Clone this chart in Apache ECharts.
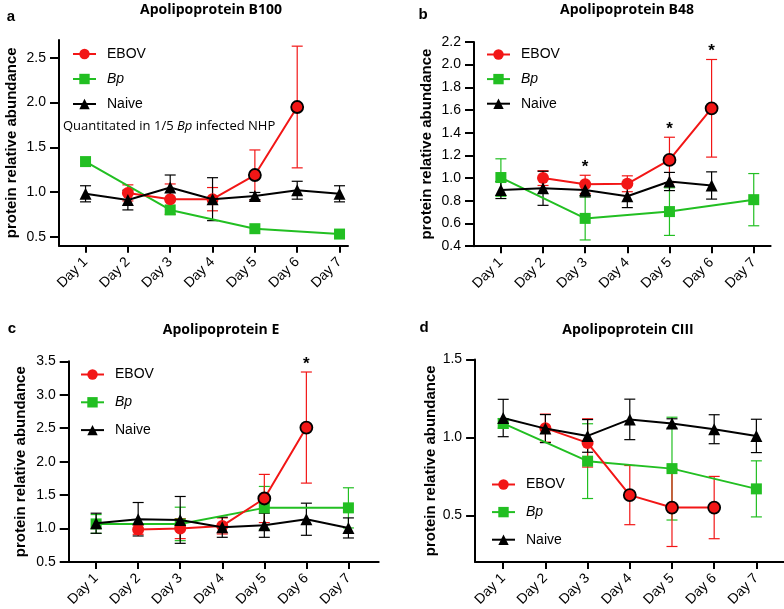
<!DOCTYPE html>
<html><head><meta charset="utf-8">
<script src="https://cdn.jsdelivr.net/npm/echarts@6/dist/echarts.min.js"></script>
<style>html,body{margin:0;padding:0;background:#fff}#c{width:784px;height:609px}</style>
</head><body><div id="c"></div>
<script>
// ---- data ----
const days = [1, 2, 3, 4, 5, 6, 7];
const dayLabels = ['Day 1', 'Day 2', 'Day 3', 'Day 4', 'Day 5', 'Day 6', 'Day 7'];
const seriesNames = ['EBOV', 'Bp', 'Naive'];

const titles = ['Apolipoprotein B100', 'Apolipoprotein B48', 'Apolipoprotein E', 'Apolipoprotein CIII'];
const letters = ['a', 'b', 'c', 'd'];

// Panel a
const ebovA = [null, 0.99, 0.92, 0.92, 1.19, 1.95, null];
const ebovAErr = [null, 0.09, 0.17, 0.13, 0.28, 0.68, null];
const bpA = [1.34, null, 0.80, null, 0.59, null, 0.53];
const bpAErr = [null, null, null, null, null, null, null];
const naiveA = [0.98, 0.91, 1.05, 0.92, 0.955, 1.02, 0.98];
const naiveAErr = [0.09, 0.11, 0.14, 0.24, 0.04, 0.10, 0.09];
const outlinedA = [5, 6];
const sigA = [];
const yTicksA = [0.5, 1.0, 1.5, 2.0, 2.5];

// Panel b
const ebovB = [null, 1.00, 0.945, 0.95, 1.16, 1.615, null];
const ebovBErr = [null, 0.065, 0.08, 0.07, 0.20, 0.43, null];
const bpB = [1.005, null, 0.645, null, 0.705, null, 0.81];
const bpBErr = [0.165, null, 0.19, null, 0.21, null, 0.23];
const naiveB = [0.895, 0.91, 0.895, 0.84, 0.97, 0.935, null];
const naiveBErr = [0.075, 0.15, 0.06, 0.10, 0.08, 0.12, null];
const outlinedB = [5, 6];
const sigB = [3, 5, 6];
const yTicksB = [0.4, 0.6, 0.8, 1.0, 1.2, 1.4, 1.6, 1.8, 2.0, 2.2];

// Panel c
const ebovC = [null, 0.985, 1.0, 1.04, 1.45, 2.51, null];
const ebovCErr = [null, 0.07, 0.15, 0.12, 0.36, 0.83, null];
const bpC = [1.07, null, 1.07, null, 1.31, null, 1.31];
const bpCErr = [0.14, null, 0.25, null, 0.32, null, 0.30];
const naiveC = [1.08, 1.14, 1.13, 1.02, 1.05, 1.14, 1.01];
const naiveCErr = [0.15, 0.25, 0.35, 0.15, 0.18, 0.24, 0.15];
const outlinedC = [5, 6];
const sigC = [6];
const yTicksC = [0.5, 1.0, 1.5, 2.0, 2.5, 3.0, 3.5];

// Panel d
const ebovD = [null, 1.06, 0.965, 0.63, 0.55, 0.55, null];
const ebovDErr = [null, 0.09, 0.155, 0.19, 0.25, 0.20, null];
const bpD = [1.09, null, 0.848, null, 0.80, null, 0.67];
const bpDErr = [0.03, null, 0.24, null, 0.33, null, 0.18];
const naiveD = [1.125, 1.057, 1.01, 1.116, 1.09, 1.053, 1.01];
const naiveDErr = [0.12, 0.09, 0.105, 0.13, 0.03, 0.093, 0.107];
const outlinedD = [4, 5, 6];
const sigD = [];
const yTicksD = [0.5, 1.0, 1.5];

// ---- layout / styles ----
const RED = '#f21616', GREEN = '#22bf22', BLACK = '#000';
const FONT = 'Arial, "Liberation Sans", sans-serif';
const panels = [
  {ebov: ebovA, ebovErr: ebovAErr, bp: bpA, bpErr: bpAErr, naive: naiveA, naiveErr: naiveAErr, outlined: outlinedA, sig: sigA, ticks: yTicksA,
   grid: {left: 59, top: 39.9, width: 289, height: 205.8}, x: [0.373, 7.2], y: [0.4, 2.7], nameGap: 40,
   legend: {left: 67, top: 42, itemGap: 11}, title: [211, 10], letter: [11, 17]},
  {ebov: ebovB, ebovErr: ebovBErr, bp: bpB, bpErr: bpBErr, naive: naiveB, naiveErr: naiveBErr, outlined: outlinedB, sig: sigB, ticks: yTicksB,
   grid: {left: 474, top: 41.9, width: 296.6, height: 204.3}, x: [0.362, 7.4], y: [0.4, 2.2], nameGap: 40,
   legend: {left: 481, top: 42.5, itemGap: 10.6}, title: [627, 10], letter: [423, 15]},
  {ebov: ebovC, ebovErr: ebovCErr, bp: bpC, bpErr: bpCErr, naive: naiveC, naiveErr: naiveCErr, outlined: outlinedC, sig: sigC, ticks: yTicksC,
   grid: {left: 68.7, top: 361.3, width: 310, height: 205}, x: [0.348, 7.72], y: [0.5, 3.5], nameGap: 40,
   legend: {left: 75, top: 362.5, itemGap: 13.8}, title: [221, 330], letter: [12, 329]},
  {ebov: ebovD, ebovErr: ebovDErr, bp: bpD, bpErr: bpDErr, naive: naiveD, naiveErr: naiveDErr, outlined: outlinedD, sig: sigD, ticks: yTicksD,
   grid: {left: 475.1, top: 359.6, width: 308.7, height: 206.7}, x: [0.334, 7.65], y: [0.2, 1.5], nameGap: 36.5,
   legend: {left: 486, top: 472.5, itemGap: 13.6}, title: [628, 330], letter: [424, 328]}
];

function pts(vals) {
  return days.map((d, i) => vals[i] == null ? null : [d, vals[i]]).filter(Boolean);
}
function errPts(vals, errs, sig) {
  return days.map((d, i) => (vals[i] == null || errs[i] == null) ? null : [d, vals[i], errs[i], sig.indexOf(d) >= 0 ? 1 : 0]).filter(Boolean);
}
function errSeries(idx, data, color) {
  return {
    type: 'custom', xAxisIndex: idx, yAxisIndex: idx, data: data, z: 1, silent: true,
    renderItem: function (params, api) {
      const x = api.value(0), y = api.value(1), e = api.value(2);
      const top = api.coord([x, y + e]);
      const bot = api.coord([x, y - e]);
      const hw = 5.5;
      const children = [
        {type: 'line', shape: {x1: top[0], y1: top[1], x2: bot[0], y2: bot[1]}, style: {stroke: color, lineWidth: 1.2}},
        {type: 'line', shape: {x1: top[0] - hw, y1: top[1], x2: top[0] + hw, y2: top[1]}, style: {stroke: color, lineWidth: 1.2}},
        {type: 'line', shape: {x1: bot[0] - hw, y1: bot[1], x2: bot[0] + hw, y2: bot[1]}, style: {stroke: color, lineWidth: 1.2}}
      ];
      if (api.value(3)) {
        children.push({type: 'text', x: top[0], y: top[1] - 8,
          style: {text: '*', fill: '#000', font: 'bold 17px ' + FONT, textAlign: 'center', textVerticalAlign: 'middle'}});
      }
      return {type: 'group', children: children};
    }
  };
}

const grids = [], xAxes = [], yAxes = [], series = [], legends = [], graphics = [];
panels.forEach((p, idx) => {
  grids.push(Object.assign({containLabel: false}, p.grid));
  xAxes.push({
    type: 'value', gridIndex: idx, min: p.x[0], max: p.x[1],
    splitLine: {show: false},
    axisLine: {onZero: false, lineStyle: {color: '#000', width: 2}},
    axisTick: {customValues: days, length: 7, lineStyle: {color: '#000', width: 2}},
    axisLabel: {customValues: days, rotate: 45, margin: 14, color: '#000', fontSize: 14, fontFamily: FONT,
      formatter: v => dayLabels[days.indexOf(Math.round(v))]}
  });
  yAxes.push({
    type: 'value', gridIndex: idx, min: p.y[0], max: p.y[1],
    name: 'protein relative abundance', nameLocation: 'middle', nameGap: p.nameGap,
    nameTextStyle: {color: '#000', fontWeight: 'bold', fontSize: 15, fontFamily: FONT},
    splitLine: {show: false},
    axisLine: {show: true, lineStyle: {color: '#000', width: 2}},
    axisTick: {show: true, customValues: p.ticks, length: 9, lineStyle: {color: '#000', width: 2}},
    axisLabel: {customValues: p.ticks, color: '#000', fontSize: 14, fontFamily: FONT, margin: 13,
      formatter: v => v.toFixed(1)}
  });
  // error bars
  series.push(errSeries(idx, errPts(p.bp, p.bpErr, []), GREEN));
  series.push(errSeries(idx, errPts(p.ebov, p.ebovErr, p.sig), RED));
  series.push(errSeries(idx, errPts(p.naive, p.naiveErr, []), BLACK));
  // lines
  series.push({
    name: 'Bp', type: 'line', xAxisIndex: idx, yAxisIndex: idx, data: pts(p.bp), z: 3,
    symbol: 'rect', symbolSize: 11, showAllSymbol: true,
    lineStyle: {color: GREEN, width: 2}, itemStyle: {color: GREEN}
  });
  series.push({
    name: 'EBOV', type: 'line', xAxisIndex: idx, yAxisIndex: idx, z: 4,
    data: pts(p.ebov).map(d => p.outlined.indexOf(d[0]) >= 0
      ? {value: d, itemStyle: {borderColor: '#000', borderWidth: 1.8}} : {value: d}),
    symbol: 'circle', symbolSize: 12, showAllSymbol: true,
    lineStyle: {color: RED, width: 2}, itemStyle: {color: RED}
  });
  series.push({
    name: 'Naive', type: 'line', xAxisIndex: idx, yAxisIndex: idx, data: pts(p.naive), z: 5,
    symbol: 'triangle', symbolSize: 12, showAllSymbol: true,
    lineStyle: {color: BLACK, width: 2}, itemStyle: {color: BLACK}
  });
  legends.push({
    data: seriesNames, orient: 'vertical', left: p.legend.left, top: p.legend.top,
    itemGap: p.legend.itemGap, itemWidth: 23, itemHeight: 13, selectedMode: false,
    textStyle: {color: '#000', fontSize: 14, fontFamily: FONT, padding: [0, 0, 0, 6],
      rich: {i: {fontStyle: 'italic', fontSize: 14, fontFamily: FONT}}},
    formatter: n => n === 'Bp' ? '{i|Bp}' : n
  });
  graphics.push({type: 'text', x: p.title[0], y: p.title[1],
    style: {text: titles[idx], font: 'bold 14px "Open Sans", sans-serif', fill: '#000', textAlign: 'center', textVerticalAlign: 'middle'}});
  graphics.push({type: 'text', x: p.letter[0], y: p.letter[1],
    style: {text: letters[idx], font: 'bold 15px ' + FONT, fill: '#000', textAlign: 'center', textVerticalAlign: 'middle'}});
});
graphics.push({type: 'text', x: 63, y: 126,
  style: {text: 'Quantitated in 1/5 {i|Bp} infected NHP', font: '13px "Open Sans", sans-serif', fill: '#000',
    textVerticalAlign: 'middle', rich: {i: {fontStyle: 'italic', fontFamily: '"Open Sans", sans-serif', fontSize: 13}}}});

const chart = echarts.init(document.getElementById('c'), null, {renderer: 'canvas'});
chart.setOption({
  animation: false,
  backgroundColor: '#fff',
  grid: grids, xAxis: xAxes, yAxis: yAxes, series: series, legend: legends, graphic: graphics
});
</script></body></html>
